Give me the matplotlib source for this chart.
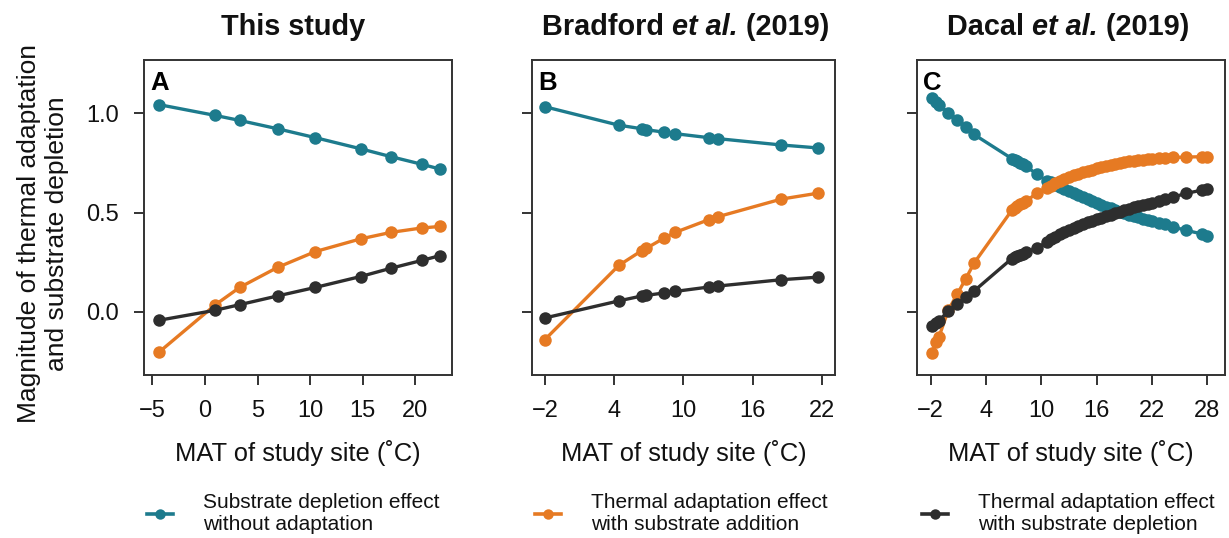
import matplotlib
matplotlib.use('Agg')
import matplotlib.pyplot as plt
from matplotlib.lines import Line2D

plt.rcParams['font.family'] = ['Liberation Sans', 'DejaVu Sans']

# ---------------- data ----------------
# Panel A: This study
a_mat = [-4.4, 1.0, 3.3, 6.9, 10.5, 14.8, 17.7, 20.6, 22.4]
a_depletion = [1.045, 0.99, 0.965, 0.923, 0.878, 0.822, 0.782, 0.744, 0.719]
a_adapt_addition = [-0.206, 0.035, 0.122, 0.223, 0.303, 0.367, 0.40, 0.422, 0.43]
a_adapt_depletion = [-0.044, 0.007, 0.035, 0.079, 0.122, 0.177, 0.219, 0.258, 0.283]

# Panel B: Bradford et al. (2019)
b_mat = [-2.0, 4.4, 6.4, 6.8, 8.3, 9.3, 12.2, 13.0, 18.5, 21.7]
b_depletion = [1.034, 0.941, 0.923, 0.918, 0.906, 0.898, 0.878, 0.873, 0.841, 0.826]
b_adapt_addition = [-0.141, 0.233, 0.308, 0.32, 0.37, 0.40, 0.464, 0.479, 0.568, 0.598]
b_adapt_depletion = [-0.032, 0.054, 0.079, 0.082, 0.094, 0.102, 0.124, 0.129, 0.161, 0.174]

# Panel C: Dacal et al. (2019)
c_mat = [-1.9, -1.4, -1.1, -0.1, 0.9, 1.8, 2.7,
         6.8, 7.1, 7.4, 7.7, 8.0, 8.3, 9.5, 10.6,
         11.0, 11.5, 12.0, 12.5, 13.0, 13.5, 14.0, 14.5, 15.0, 15.5, 16.0,
         16.5, 17.0, 17.5, 18.0, 18.5, 19.0, 19.5, 20.0, 20.5, 21.0, 21.5,
         22.0, 22.7, 23.4, 24.3, 25.7, 27.4, 28.0]
c_depletion = [1.079, 1.058, 1.045, 1.003, 0.968, 0.93, 0.894,
               0.772, 0.765, 0.758, 0.75, 0.743, 0.736, 0.693, 0.66,
               0.652, 0.641, 0.63, 0.619, 0.608, 0.598, 0.588, 0.578, 0.568, 0.558, 0.548,
               0.539, 0.53, 0.521, 0.512, 0.504, 0.497, 0.49, 0.483, 0.476, 0.469, 0.463,
               0.457, 0.448, 0.44, 0.427, 0.41, 0.392, 0.384]
c_adapt_addition = [-0.21, -0.155, -0.127, 0.007, 0.09, 0.166, 0.245,
                    0.512, 0.522, 0.532, 0.541, 0.549, 0.556, 0.598, 0.626,
                    0.635, 0.647, 0.658, 0.668, 0.678, 0.687, 0.695, 0.703, 0.71, 0.717, 0.723,
                    0.729, 0.735, 0.74, 0.745, 0.75, 0.754, 0.758, 0.761, 0.764, 0.767, 0.769,
                    0.771, 0.774, 0.776, 0.778, 0.78, 0.782, 0.782]
c_adapt_depletion = [-0.074, -0.055, -0.045, 0.002, 0.038, 0.072, 0.104,
                     0.268, 0.275, 0.281, 0.287, 0.293, 0.299, 0.322, 0.35,
                     0.367, 0.379, 0.39, 0.401, 0.412, 0.422, 0.432, 0.441, 0.45, 0.459, 0.467,
                     0.475, 0.482, 0.489, 0.496, 0.503, 0.513, 0.52, 0.526, 0.532, 0.538, 0.544,
                     0.55, 0.558, 0.566, 0.578, 0.597, 0.613, 0.62]

a_xticks = [-5, 0, 5, 10, 15, 20]
b_xticks = [-2, 4, 10, 16, 22]
c_xticks = [-2, 4, 10, 16, 22, 28]
y_ticks = [0.0, 0.5, 1.0]
y_ticklabels = ['0.0', '0.5', '1.0']

legend_labels = ['Substrate depletion effect\nwithout adaptation',
                 'Thermal adaptation effect\nwith substrate addition',
                 'Thermal adaptation effect\nwith substrate depletion']

# ---------------- style ----------------
COL_BLUE = '#1d7b8d'
COL_ORANGE = '#e67a23'
COL_BLACK = '#2e2e2e'
SPINE = '#333333'
TXT = '#111111'

W, H = 1229, 538
fig = plt.figure(figsize=(W / 100, H / 100), dpi=100)


def add_ax(l, r, t=60, b=375):
    return fig.add_axes([l / W, 1 - b / H, (r - l) / W, (b - t) / H])


axA = add_ax(144, 452)
axB = add_ax(531.7, 835)
axC = add_ax(916.7, 1225)

panels = [
    (axA, a_mat, a_depletion, a_adapt_addition, a_adapt_depletion, a_xticks, (-5.8, 23.5), 'A'),
    (axB, b_mat, b_depletion, b_adapt_addition, b_adapt_depletion, b_xticks, (-3.15, 23.15), 'B'),
    (axC, c_mat, c_depletion, c_adapt_addition, c_adapt_depletion, c_xticks, (-3.52, 29.9), 'C'),
]

lw, ms = 2.4, 9
for i, (ax, x, dep, add, adep, xt, xl, letter) in enumerate(panels):
    ax.plot(x, dep, '-o', color=COL_BLUE, lw=lw, ms=ms, mew=0, zorder=3)
    ax.plot(x, add, '-o', color=COL_ORANGE, lw=lw, ms=ms, mew=0, zorder=4)
    ax.plot(x, adep, '-o', color=COL_BLACK, lw=lw, ms=ms, mew=0, zorder=5)
    ax.set_xlim(*xl)
    ax.set_ylim(-0.32, 1.27)
    ax.set_xticks(xt)
    ax.set_yticks(y_ticks)
    if i == 0:
        ax.set_yticklabels(y_ticklabels)
    else:
        ax.set_yticklabels([])
    ax.tick_params(axis='both', direction='out', length=7, width=1.4,
                   color=SPINE, labelsize=17, pad=11, labelcolor=TXT)
    for sp in ax.spines.values():
        sp.set_linewidth(1.4)
        sp.set_color(SPINE)
    ax.set_xlabel('MAT of study site (\u02daC)', fontsize=18.4, labelpad=13, color=TXT)
    ax.text(0.022, 0.965, letter, transform=ax.transAxes, fontsize=18.5,
            fontweight='bold', va='top', ha='left')

axA.set_ylabel('Magnitude of thermal adaptation\nand substrate depletion',
               fontsize=19, color=TXT, linespacing=1.2)
axA.yaxis.set_label_coords(-0.243, 0.449)

# ---------------- titles (bold with bold-italic "et al.") ----------------
title_parts = [
    [('This study', 'normal')],
    [('Bradford ', 'normal'), ('et al.', 'italic'), (' (2019)', 'normal')],
    [('Dacal ', 'normal'), ('et al.', 'italic'), (' (2019)', 'normal')],
]
title_centers = [293.5, 686, 1068]
title_fs = 20.8
title_base_y = 1 - 35 / H
fig.canvas.draw()
renderer = fig.canvas.get_renderer()
for cx, parts in zip(title_centers, title_parts):
    texts = []
    for s, style in parts:
        t = fig.text(0, title_base_y, s, fontsize=title_fs, fontweight='bold',
                     fontstyle=style, va='baseline', ha='left', color=TXT)
        texts.append(t)
    widths = [t.get_window_extent(renderer).width for t in texts]
    total = sum(widths)
    x0 = cx - total / 2
    for t, w in zip(texts, widths):
        t.set_x(x0 / W)
        x0 += w

# ---------------- legends ----------------
colors = [COL_BLUE, COL_ORANGE, COL_BLACK]
leg_x = [146.7, 535, 921.7]
for lab, c, lx in zip(legend_labels, colors, leg_x):
    h = Line2D([], [], color=c, lw=2.6, marker='o', ms=7.5, mew=0)
    fig.legend(handles=[h], labels=[lab], loc='center left',
               bbox_to_anchor=(lx / W, 1 - 514 / H), frameon=False,
               fontsize=15, borderpad=0, borderaxespad=0,
               handlelength=1.25, handletextpad=1.45, numpoints=1,
               labelcolor=TXT)

fig.savefig('out.png', dpi=100)
